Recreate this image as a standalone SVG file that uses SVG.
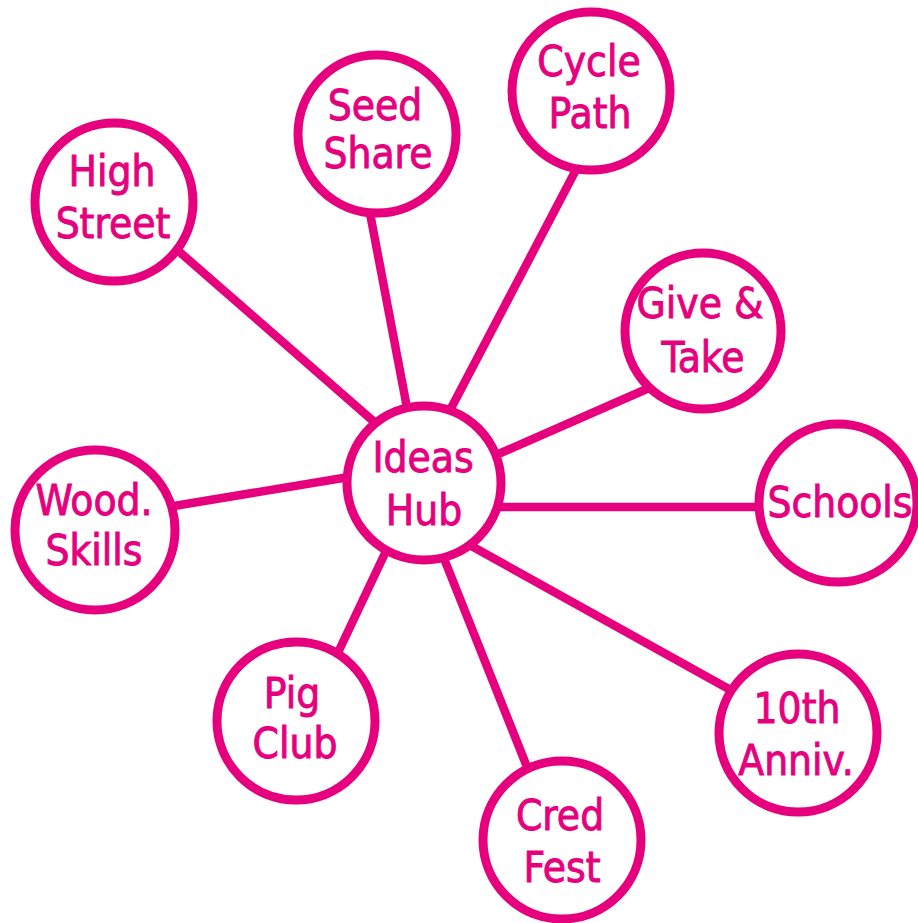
<svg xmlns="http://www.w3.org/2000/svg" width="918" height="923" viewBox="0 0 918 923">
<style>
.bg{fill:#ffffff}
.link{stroke:#E6007E;stroke-width:8.5;stroke-linecap:butt;fill:none}
.node circle{fill:#ffffff;stroke:#E6007E;stroke-width:9}
.node text{fill:#E6007E;stroke:#E6007E;stroke-width:0.9;font-family:"DejaVu Sans Condensed","DejaVu Sans","Liberation Sans",sans-serif;font-size:42px;text-anchor:middle}
</style>
<rect class="bg" x="0" y="0" width="918" height="923"/>
<g id="connectors">
<line class="link" x1="175" y1="248" x2="380" y2="427"/>
<line class="link" x1="369" y1="208" x2="408" y2="413"/>
<line class="link" x1="578" y1="166" x2="448" y2="414"/>
<line class="link" x1="649" y1="388" x2="494" y2="456"/>
<line class="link" x1="765" y1="507" x2="495" y2="507"/>
<line class="link" x1="736" y1="693" x2="466" y2="543"/>
<line class="link" x1="531" y1="777" x2="441" y2="551"/>
<line class="link" x1="334" y1="661" x2="387" y2="549"/>
<line class="link" x1="168" y1="507" x2="355" y2="476"/>
</g>
<g id="ideas-hub" class="node">
<circle cx="424" cy="483" r="77"/>
<text x="423" y="472">Ideas</text>
<text x="424" y="525">Hub</text>
</g>
<g id="high-street" class="node">
<circle cx="114" cy="202" r="79"/>
<text x="112" y="186">High</text>
<text x="113" y="238">Street</text>
</g>
<g id="seed-share" class="node">
<circle cx="377" cy="134" r="79"/>
<text x="375" y="120">Seed</text>
<text x="378" y="168">Share</text>
</g>
<g id="cycle-path" class="node">
<circle cx="591" cy="91" r="79"/>
<text x="589" y="76">Cycle</text>
<text x="590" y="128">Path</text>
</g>
<g id="give-take" class="node">
<circle cx="703" cy="331" r="78"/>
<text x="700" y="318">Give &amp;</text>
<text x="703" y="372">Take</text>
</g>
<g id="schools" class="node">
<circle cx="838" cy="503" r="79"/>
<text x="840" y="517">Schools</text>
</g>
<g id="tenth-anniv" class="node">
<circle cx="798" cy="733" r="79"/>
<text x="797" y="723">10th</text>
<text x="796" y="775">Anniv.</text>
</g>
<g id="cred-fest" class="node">
<circle cx="562" cy="840" r="79"/>
<text x="560" y="830">Cred</text>
<text x="562" y="882">Fest</text>
</g>
<g id="pig-club" class="node">
<circle cx="296" cy="721" r="79"/>
<text x="292" y="708">Pig</text>
<text x="295" y="758">Club</text>
</g>
<g id="wood-skills" class="node">
<circle cx="95" cy="530" r="80"/>
<text x="94" y="515">Wood.</text>
<text x="94" y="565">Skills</text>
</g>
</svg>
